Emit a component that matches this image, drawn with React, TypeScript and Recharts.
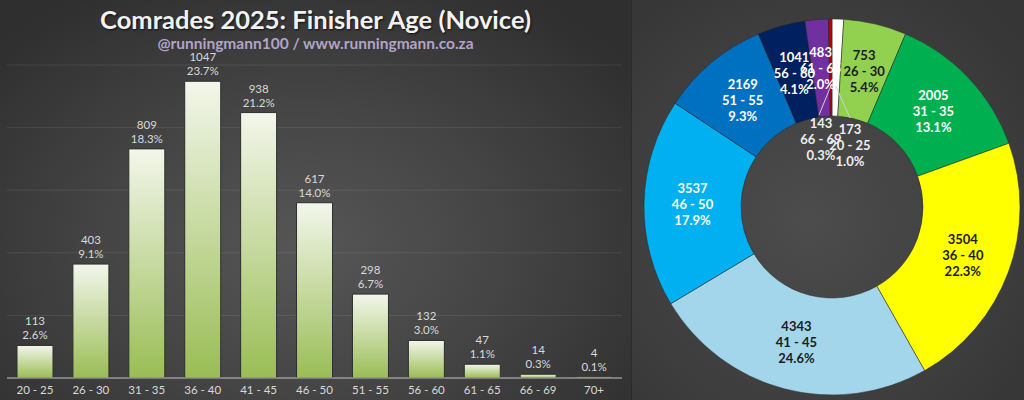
import { BarChart, Bar, XAxis, YAxis, CartesianGrid, LabelList, PieChart, Pie, Cell } from "recharts";

// bar chart: novice finishers by age group
const ageGroups = ["20 - 25", "26 - 30", "31 - 35", "36 - 40", "41 - 45", "46 - 50", "51 - 55", "56 - 60", "61 - 65", "66 - 69", "70+"];
const finishers = [113, 403, 809, 1047, 938, 617, 298, 132, 47, 14, 4];
const finisherPct = [2.6, 9.1, 18.3, 23.7, 21.2, 14.0, 6.7, 3.0, 1.1, 0.3, 0.1];
const pctTicks = [0, 5, 10, 15, 20, 25];

// donut: all finishers by age group
const donutGroups = ["20 - 25", "26 - 30", "31 - 35", "36 - 40", "41 - 45", "46 - 50", "51 - 55", "56 - 60", "61 - 65", "66 - 69"];
const donutCounts = [173, 753, 2005, 3504, 4343, 3537, 2169, 1041, 483, 143];
const donutPct = [1.0, 5.4, 13.1, 22.3, 24.6, 17.9, 9.3, 4.1, 2.0, 0.3];
const donutColors = ["#ffffff", "#92d050", "#00b050", "#ffff00", "#a3d6ea", "#00b0f0", "#0070c0", "#002060", "#7030a0", "#c00000"];
const darkLabel = [false, true, false, true, true, false, false, false, false, false];

const barData = ageGroups.map((g, i) => ({ group: g, count: finishers[i], pct: finisherPct[i] }));
const donutData = donutGroups.map((g, i) => ({ group: g, count: donutCounts[i], pct: donutPct[i] }));

const FONT = "Lato, 'Open Sans', sans-serif";
const RAD = Math.PI / 180;

function BarLabel(props: any) {
  const { x, y, width, index } = props;
  const cx = x + width / 2;
  return (
    <g fontFamily={FONT} fontSize={11.5} fill="#d9d9d9" textAnchor="middle">
      <text x={cx} y={y - 20}>{finishers[index]}</text>
      <text x={cx} y={y - 6}>{finisherPct[index].toFixed(1)}%</text>
    </g>
  );
}

// labels that sit in the hole, with leader lines
const holeLabels: Record<number, { dx: number; dy: number; lx: number; ly: number }> = {
  0: { dx: 18, dy: -62, lx: 18, ly: -89 },
  9: { dx: -11, dy: -68, lx: -13, ly: -92 },
};

function DonutLabel(props: any) {
  const { cx, cy, midAngle, innerRadius, outerRadius, index } = props;
  const d = donutData[index];
  const lines = [String(d.count), d.group, d.pct.toFixed(1) + "%"];
  const hole = holeLabels[index];
  let tx: number, ty: number;
  let line = null;
  let color = darkLabel[index] ? "#1c1c1c" : "#ffffff";
  if (hole) {
    tx = cx + hole.dx;
    ty = cy + hole.dy;
    const r0 = innerRadius + 30;
    const sx = cx + r0 * Math.cos(-midAngle * RAD);
    const sy = cy + r0 * Math.sin(-midAngle * RAD);
    line = <line x1={sx} y1={sy} x2={cx + hole.lx} y2={cy + hole.ly} stroke="#d0d0d0" strokeWidth={1} />;
    color = "#eeeeee";
  } else {
    const r = (innerRadius + outerRadius) / 2;
    tx = cx + r * Math.cos(-midAngle * RAD);
    ty = cy + r * Math.sin(-midAngle * RAD);
  }
  return (
    <g>
      {line}
      <text x={tx} y={ty} fill={color} textAnchor="middle" dominantBaseline="central" fontFamily={FONT} fontSize={13} fontWeight={700}>
        {lines.map((t, i) => (
          <tspan key={i} x={tx} y={ty + (i - 1) * 16}>{t}</tspan>
        ))}
      </text>
    </g>
  );
}

export default function App() {
  return (
    <div style={{ position: "relative", width: 1024, height: 400, overflow: "hidden", background: "#2c2c2c" }}>
      <style>{"body{margin:0}"}</style>
      <div
        style={{
          position: "absolute",
          left: 0,
          top: 0,
          width: 631,
          height: 400,
          background: "radial-gradient(ellipse 65% 75% at 48% 62%, #565656 0%, #464646 45%, #2f2f2f 100%)",
        }}
      >
        <div
          style={{
            position: "absolute",
            top: 4,
            width: 631,
            textAlign: "center",
            fontFamily: FONT,
            fontWeight: 700,
            fontSize: 25.5,
            color: "#f2f2f2",
            textShadow: "1px 1px 2px #111",
          }}
        >
          Comrades 2025: Finisher Age (Novice)
        </div>
        <div
          style={{
            position: "absolute",
            top: 34,
            width: 631,
            textAlign: "center",
            fontFamily: FONT,
            fontWeight: 700,
            fontSize: 15.5,
            color: "#b2a3c8",
          }}
        >
          @runningmann100 / www.runningmann.co.za
        </div>
        <div style={{ position: "absolute", left: 0, top: 0 }}>
          <BarChart width={631} height={400} data={barData} margin={{ top: 65, right: 9, left: 7, bottom: 2 }}>
            <defs>
              <linearGradient id="barGrad" x1="0" y1="0" x2="0" y2="1">
                <stop offset="0%" stopColor="#f3f6eb" />
                <stop offset="100%" stopColor="#9abd55" />
              </linearGradient>
            </defs>
            <CartesianGrid vertical={false} stroke="rgba(255,255,255,0.09)" />
            <XAxis
              dataKey="group"
              height={20}
              tickLine={false}
              axisLine={{ stroke: "#bdbdbd" }}
              tick={{ fill: "#d9d9d9", fontSize: 11.5, fontFamily: FONT }}
              interval={0}
            />
            <YAxis hide domain={[0, 25]} ticks={pctTicks} />
            <Bar dataKey="pct" barSize={36} fill="url(#barGrad)" stroke="#2e2e2e" strokeWidth={1} isAnimationActive={false}>
              <LabelList dataKey="pct" content={BarLabel} />
            </Bar>
          </BarChart>
        </div>
      </div>
      <div
        style={{
          position: "absolute",
          left: 632,
          top: 0,
          width: 392,
          height: 400,
          background: "radial-gradient(ellipse 70% 70% at 45% 55%, #4c4c4c 0%, #424242 50%, #363636 100%)",
        }}
      >
        <PieChart width={392} height={400}>
          <Pie
            data={donutData}
            dataKey="pct"
            nameKey="group"
            cx={195}
            cy={202}
            innerRadius={91}
            outerRadius={188}
            startAngle={90}
            endAngle={-270}
            stroke="rgba(40,40,40,0.5)"
            strokeWidth={1}
            label={DonutLabel}
            labelLine={false}
            isAnimationActive={false}
          >
            {donutData.map((d, i) => (
              <Cell key={d.group} fill={donutColors[i]} />
            ))}
          </Pie>
        </PieChart>
      </div>
    </div>
  );
}
